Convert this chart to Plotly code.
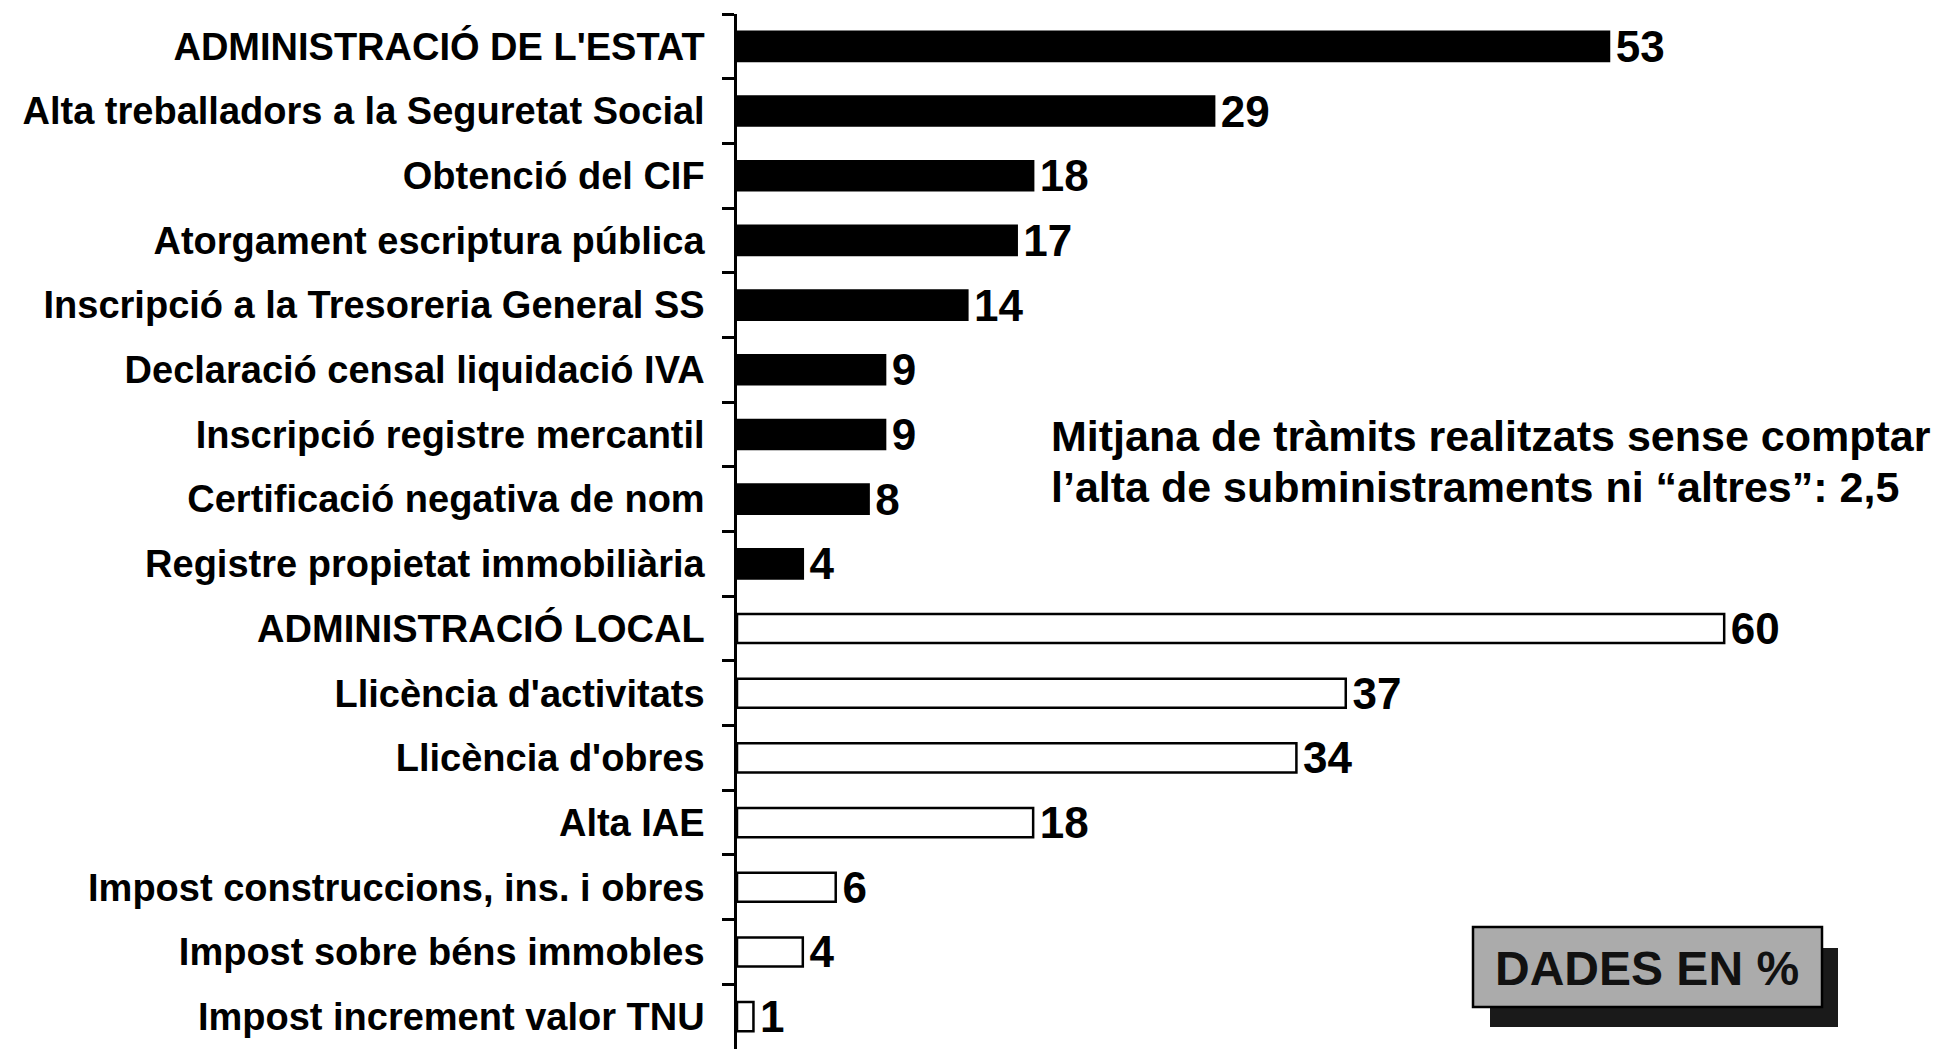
import plotly.graph_objects as go

categories = [
    "ADMINISTRACIÓ DE L'ESTAT",
    "Alta treballadors a la Seguretat Social",
    "Obtenció del CIF",
    "Atorgament escriptura pública",
    "Inscripció a la Tresoreria General SS",
    "Declaració censal liquidació IVA",
    "Inscripció registre mercantil",
    "Certificació negativa de nom",
    "Registre propietat immobiliària",
    "ADMINISTRACIÓ LOCAL",
    "Llicència d'activitats",
    "Llicència d'obres",
    "Alta IAE",
    "Impost construccions, ins. i obres",
    "Impost sobre béns immobles",
    "Impost increment valor TNU",
]
values = [53, 29, 18, 17, 14, 9, 9, 8, 4, 60, 37, 34, 18, 6, 4, 1]
groups = ["estat"] * 9 + ["local"] * 7

note_lines = [
    "Mitjana de tràmits realitzats sense comptar",
    "l’alta de subministraments ni “altres”: 2,5",
]
badge_text = "DADES EN %"

FONT = "Liberation Sans, Arial, sans-serif"
fill = ["black" if g == "estat" else "white" for g in groups]

# page body has an 8px default margin; figure is laid out relative to it
L, T = 729, 6
PW, PH = 1206, 1035

fig = go.Figure()
fig.add_trace(go.Bar(
    x=values,
    y=categories,
    orientation="h",
    marker=dict(color=fill, line=dict(color="black", width=2.5)),
    text=["\u200a" + str(v) for v in values],
    textposition="outside",
    constraintext="none",
    textfont=dict(family=FONT, size=44, color="black", weight="bold"),
    cliponaxis=False,
    hoverinfo="skip",
))

fig.update_layout(
    width=L + PW,
    height=T + PH,
    margin=dict(l=L, r=0, t=T, b=0, autoexpand=False),
    paper_bgcolor="white",
    plot_bgcolor="white",
    bargap=0.55,
    showlegend=False,
    xaxis=dict(range=[0, 73.3], visible=False, fixedrange=True),
    yaxis=dict(
        type="category",
        categoryorder="array",
        categoryarray=categories,
        autorange="reversed",
        showline=True,
        linecolor="black",
        linewidth=2.5,
        ticks="outside",
        tickson="boundaries",
        ticklen=12,
        tickwidth=2.5,
        tickcolor="black",
        showgrid=False,
        automargin=False,
        tickfont=dict(family=FONT, size=38, color="black", weight="bold"),
        ticklabelstandoff=22,
    ),
)

def px_x(p):
    return (p - 737) / PW

def px_y(p):
    return 1 - (p - 14) / PH

for line, yy in zip(note_lines, [436, 487]):
    fig.add_annotation(
        xref="paper", yref="paper",
        x=px_x(1049), y=px_y(yy),
        xanchor="left", yanchor="middle",
        align="left",
        text=line,
        showarrow=False,
        font=dict(family=FONT, size=43, color="black", weight="bold"),
    )

# badge shadow
fig.add_shape(type="rect", xref="paper", yref="paper",
              x0=px_x(1490), x1=px_x(1838), y0=px_y(1027), y1=px_y(948),
              fillcolor="#1a1a1a", line=dict(width=0), layer="above")
# badge box
fig.add_shape(type="rect", xref="paper", yref="paper",
              x0=px_x(1473), x1=px_x(1822), y0=px_y(1007), y1=px_y(927),
              fillcolor="#ababab", line=dict(color="black", width=2.5), layer="above")
fig.add_annotation(
    xref="paper", yref="paper",
    x=px_x(1647), y=px_y(968),
    xanchor="center", yanchor="middle",
    text=badge_text, showarrow=False,
    font=dict(family=FONT, size=48, color="#111111", weight="bold"),
)

fig.write_html("out.html")
